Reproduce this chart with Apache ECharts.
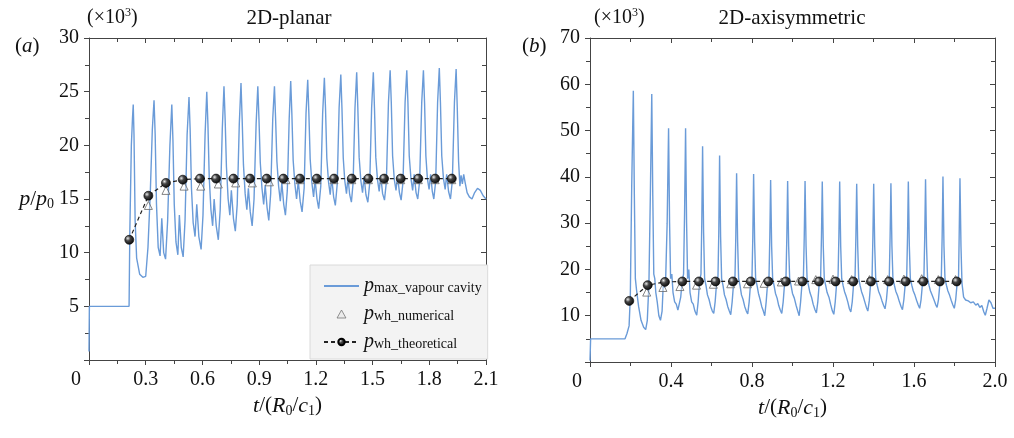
<!DOCTYPE html>
<html>
<head>
<meta charset="utf-8">
<title>p/p0 vapour cavity</title>
<script src="https://cdn.jsdelivr.net/npm/echarts@6/dist/echarts.min.js"></script>
<style>
  html, body { margin: 0; padding: 0; background: #fff; }
  #chart { width: 1014px; height: 438px; }
</style>
</head>
<body>
<div id="chart"></div>
<script>
// (a) 2D-planar : pressure history of the vapour cavity, t/(R0/c1) vs p/p0 (x10^3)
var planarCurve = [
  [0,0.8],[0.002,5],[0.212,5],[0.216,12],[0.224,20],[0.230,22.5],[0.234,23.8],[0.238,21],[0.244,13],[0.252,9.5],[0.268,8.0],[0.285,7.7],[0.300,7.8],[0.312,10.5],[0.324,15.5],[0.335,21.5],[0.344,24.2],
  [0.350,21],[0.357,14.5],[0.366,10.5],[0.376,9.7],[0.385,13.2],[0.395,10.0],[0.405,9.4],[0.416,13],[0.428,20],[0.438,23.8],
  [0.444,20.5],[0.451,14.5],[0.460,11],[0.470,9.8],[0.478,13.5],[0.488,10.5],[0.498,9.6],[0.508,13],[0.519,21],[0.529,24.5],
  [0.535,21.5],[0.542,16],[0.551,12.8],[0.561,11.5],[0.570,14.5],[0.581,11.5],[0.593,10.3],[0.603,13.5],[0.614,21],[0.623,25.0],
  [0.629,22],[0.636,17],[0.645,14],[0.654,12.5],[0.662,15],[0.673,12.5],[0.684,11.2],[0.694,14],[0.705,21.5],[0.714,25.5],
  [0.720,22.5],[0.727,18],[0.736,15],[0.745,13.5],[0.753,15.8],[0.764,13.2],[0.774,12.0],[0.784,14.5],[0.795,22],[0.804,25.8],
  [0.810,22.5],[0.817,18.2],[0.826,15.5],[0.835,14],[0.843,16],[0.853,13.8],[0.863,12.5],[0.873,15],[0.884,22],[0.893,25.5],
  [0.899,22.5],[0.906,18.4],[0.915,16],[0.924,14.5],[0.932,16.3],[0.942,14.2],[0.951,13.0],[0.961,15.5],[0.972,22.5],[0.981,25.5],
  [0.987,22.5],[0.994,18.5],[1.003,16.2],[1.012,14.8],[1.020,16.5],[1.030,14.5],[1.039,13.5],[1.049,15.8],[1.059,22.5],[1.067,26.0],
  [1.073,23],[1.080,18.6],[1.089,16.4],[1.098,15],[1.107,16.7],[1.117,14.8],[1.127,13.8],[1.138,16],[1.148,23],[1.157,26.1],
  [1.163,23],[1.170,18.7],[1.179,16.5],[1.188,15.2],[1.196,16.8],[1.206,15],[1.215,14.1],[1.226,16.2],[1.236,23],[1.245,26.3],
  [1.251,23.5],[1.258,18.8],[1.267,16.6],[1.276,15.4],[1.284,17],[1.294,15.2],[1.303,14.4],[1.313,16.4],[1.323,23.5],[1.332,26.6],
  [1.338,23.5],[1.345,18.8],[1.353,16.7],[1.362,15.5],[1.370,17],[1.379,15.4],[1.388,14.7],[1.397,16.5],[1.407,23.5],[1.416,26.8],
  [1.422,23.5],[1.429,18.9],[1.438,16.7],[1.447,15.6],[1.455,17.1],[1.465,15.4],[1.475,14.7],[1.485,16.5],[1.495,23.5],[1.504,26.8],
  [1.510,23.5],[1.517,18.9],[1.526,16.8],[1.535,15.7],[1.543,17.2],[1.553,15.5],[1.563,14.9],[1.573,16.6],[1.584,24],[1.593,27.0],
  [1.599,24],[1.606,19],[1.615,16.8],[1.624,15.8],[1.632,17.2],[1.642,15.6],[1.651,14.9],[1.661,16.6],[1.672,24],[1.681,27.0],
  [1.687,24],[1.694,19],[1.703,16.9],[1.712,15.8],[1.720,17.3],[1.730,15.6],[1.739,15.0],[1.749,16.7],[1.760,24],[1.769,27.0],
  [1.775,24],[1.782,19],[1.790,16.9],[1.799,15.9],[1.807,17.3],[1.816,15.7],[1.824,15.0],[1.834,16.7],[1.844,24],[1.853,27.2],
  [1.859,24],[1.866,19],[1.875,16.9],[1.884,15.9],[1.892,17.3],[1.902,15.7],[1.912,15.0],[1.922,16.7],[1.933,24],[1.942,27.1],
  [1.948,23.5],[1.955,18.5],[1.962,16.2],[1.968,17.2],[1.975,16.4],[1.982,17.3],[1.990,16.5],[2.000,15.6],[2.012,15.2],[2.026,15.0],[2.040,15.6],[2.055,16.0],[2.070,15.8],[2.085,15.3],[2.100,15.0]
];
var planarNumerical = [
  [0.314,14.4],[0.407,15.8],[0.503,16.2],[0.591,16.2],[0.684,16.4],[0.776,16.5],[0.864,16.5],[0.954,16.6],[1.042,16.8],
  [1.116,16.8],[1.205,16.8],[1.296,16.8],[1.390,16.8],[1.478,16.8],[1.561,16.8],[1.649,16.8],[1.742,16.8],[1.831,16.8],[1.919,16.8]
];
var planarTheoretical = [
  [0.213,11.2],[0.314,15.3],[0.407,16.5],[0.496,16.8],[0.587,16.9],[0.672,16.9],[0.764,16.9],[0.852,16.9],[0.940,16.9],[1.028,16.9],
  [1.116,16.9],[1.205,16.9],[1.296,16.9],[1.390,16.9],[1.478,16.9],[1.561,16.9],[1.649,16.9],[1.742,16.9],[1.831,16.9],[1.919,16.9]
];

// (b) 2D-axisymmetric
var axiCurve = [
  [0,0.3],[0.003,5],[0.173,5],[0.183,6.2],[0.193,7.8],[0.199,14],[0.206,38],[0.214,58.6],[0.219,36],[0.224,18],[0.230,15.5],[0.240,12],[0.252,9],[0.265,7.5],[0.275,7.0],[0.283,9],[0.291,17],[0.298,36],[0.305,57.9],
  [0.310,36],[0.315,19],[0.320,18],[0.325,15],[0.332,13],[0.340,10],[0.348,9.0],[0.356,11],[0.362,17],[0.368,16],[0.374,18.5],[0.381,30],[0.388,50.5],
  [0.393,30],[0.398,18],[0.404,19],[0.410,15],[0.418,13],[0.426,12.5],[0.434,11.2],[0.441,11.0],[0.448,14],[0.455,17.5],[0.462,19],[0.467,32],[0.472,50.5],
  [0.477,30],[0.482,18],[0.488,20],[0.494,15],[0.502,13],[0.510,12.5],[0.518,11],[0.527,10.1],[0.534,13],[0.541,17.5],[0.548,19],[0.552,30],[0.556,46.6],
  [0.561,28],[0.566,18],[0.573,16.5],[0.580,14.5],[0.588,13.5],[0.596,12],[0.604,11],[0.611,10.5],[0.618,13],[0.625,17],[0.632,18.5],[0.636,28],[0.640,44.6],
  [0.645,27],[0.650,18],[0.657,16.5],[0.664,14.5],[0.672,13.5],[0.680,12],[0.688,11],[0.695,10.2],[0.702,13],[0.709,17],[0.716,18.5],[0.720,27],[0.724,40.8],
  [0.729,26],[0.734,18],[0.741,16.5],[0.748,14.5],[0.756,13.5],[0.764,12],[0.772,11],[0.779,10.4],[0.786,13],[0.793,17],[0.800,18.5],[0.804,27],[0.808,40.6],
  [0.813,26],[0.818,18],[0.825,16.5],[0.832,14.8],[0.840,13.5],[0.848,12],[0.856,11],[0.863,10.0],[0.870,13],[0.877,17],[0.884,18.5],[0.888,27],[0.892,39.3],
  [0.897,25],[0.902,18],[0.909,16.5],[0.916,14.8],[0.924,13.8],[0.932,12.2],[0.940,11.2],[0.947,10.5],[0.954,13],[0.961,17],[0.968,18.5],[0.972,27],[0.976,39.1],
  [0.981,25],[0.986,18],[0.993,16.5],[1.000,14.8],[1.009,13.8],[1.018,12.2],[1.026,11],[1.033,10.0],[1.040,13],[1.047,17],[1.054,18.5],[1.058,27],[1.062,39.1],
  [1.067,25],[1.072,18],[1.079,16.5],[1.086,15],[1.094,14],[1.102,12.5],[1.111,11.3],[1.118,10.6],[1.125,13],[1.132,17],[1.139,18.5],[1.143,27],[1.147,39.0],
  [1.152,25],[1.157,18],[1.164,16.5],[1.171,15],[1.180,14],[1.188,12.5],[1.197,11],[1.204,10.3],[1.211,13],[1.218,17],[1.225,18.5],[1.229,27],[1.233,39.0],
  [1.238,25],[1.243,18],[1.250,16.5],[1.257,15.2],[1.265,14.2],[1.273,13],[1.281,11.5],[1.288,10.8],[1.295,13],[1.302,17],[1.309,18.5],[1.313,27],[1.317,38.5],
  [1.322,25],[1.327,18],[1.334,16.5],[1.341,15.2],[1.349,14.2],[1.357,13],[1.365,11.8],[1.372,11.0],[1.379,13.2],[1.386,17],[1.393,18.5],[1.397,27],[1.401,38.5],
  [1.406,25],[1.411,18],[1.418,16.6],[1.425,15.3],[1.434,14.3],[1.442,13.2],[1.450,12.2],[1.457,11.5],[1.464,13.5],[1.471,17],[1.478,18.5],[1.482,27],[1.486,38.6],
  [1.491,25],[1.496,18],[1.503,16.6],[1.510,15.3],[1.519,14.3],[1.528,13],[1.536,12],[1.543,11.3],[1.550,13.5],[1.557,17],[1.564,18.5],[1.568,27],[1.572,39.0],
  [1.577,25],[1.582,18],[1.589,16.6],[1.596,15.4],[1.605,14.4],[1.613,13.3],[1.621,12.3],[1.628,11.6],[1.635,13.5],[1.642,17],[1.649,18.5],[1.653,27],[1.657,39.5],
  [1.662,25],[1.667,18],[1.674,16.6],[1.681,15.4],[1.690,14.4],[1.699,13.4],[1.707,12.4],[1.714,11.8],[1.721,13.5],[1.728,17],[1.735,18.5],[1.739,27],[1.743,40.1],
  [1.748,25],[1.753,18],[1.760,16.6],[1.767,15.4],[1.776,14.4],[1.784,13.3],[1.792,12.3],[1.799,11.6],[1.806,13.5],[1.813,17],[1.820,18.5],[1.823,27],[1.827,39.7],
  [1.832,25],[1.837,17],[1.845,14],[1.855,13.4],[1.868,13.2],[1.880,12.8],[1.893,13],[1.905,12.3],[1.915,12.6],[1.925,11.8],[1.935,12.2],[1.945,10.8],[1.952,10.1],[1.960,11.5],[1.970,13.4],[1.980,12.8],[1.990,11.6],[2.000,11.6]
];
var axiNumerical = [
  [0.280,15.1],[0.360,16.1],[0.444,16.3],[0.526,16.6],[0.609,16.8],[0.695,16.9],[0.778,16.9],[0.860,17.0],[0.945,17.3],[1.030,17.5],
  [1.115,17.8],[1.200,17.9],[1.292,17.8],[1.380,17.8],[1.470,17.8],[1.550,17.9],[1.638,18.0],[1.720,17.8],[1.805,17.8]
];
var axiTheoretical = [
  [0.194,13.2],[0.285,16.6],[0.370,17.3],[0.456,17.4],[0.538,17.4],[0.620,17.4],[0.706,17.4],[0.794,17.4],[0.881,17.4],[0.967,17.4],
  [1.049,17.4],[1.131,17.4],[1.213,17.4],[1.300,17.4],[1.388,17.4],[1.477,17.4],[1.559,17.4],[1.646,17.4],[1.728,17.4],[1.811,17.4]
];

// axis ranges [min, max, interval]
var planarX = [0, 2.1, 0.3];
var planarY = [0, 30, 5];
var axiX = [0, 2.0, 0.4];
var axiY = [0, 70, 10];

var names = ['p_max_vapour cavity', 'p_wh_numerical', 'p_wh_theoretical'];
var legendText = {
  'p_max_vapour cavity': '{i|p}{s|max_vapour cavity}',
  'p_wh_numerical': '{i|p}{s|wh_numerical}',
  'p_wh_theoretical': '{i|p}{s|wh_theoretical}'
};

var serif = 'Liberation Serif';
var axisColor = '#444';
var txt = '#111';
var blue = '#6a9bd8';

var subRich = {
  i: { fontFamily: serif, fontStyle: 'italic', fontSize: 22, lineHeight: 24, color: txt },
  s: { fontFamily: serif, fontSize: 14, lineHeight: 14, verticalAlign: 'bottom', color: txt }
};

function fmtX(v) {
  if (v === 0) return '{z|0}';
  return v.toFixed(1);
}

function xAxes(grid, r) {
  var base = {
    gridIndex: grid, type: 'value', min: r[0], max: r[1], interval: r[2],
    axisLine: { onZero: false, lineStyle: { color: axisColor, width: 1 } },
    axisTick: { length: 5, lineStyle: { color: axisColor } },
    minorTick: { show: true, splitNumber: 2, length: 4, lineStyle: { color: axisColor } },
    splitLine: { show: false },
    minorSplitLine: { show: false }
  };
  var bottom = Object.assign({}, base, {
    position: 'bottom',
    axisLabel: {
      margin: 10, color: txt, fontFamily: serif, fontSize: 20, formatter: fmtX,
      rich: { z: { padding: [0, 26, 0, 0], fontFamily: serif, fontSize: 20, color: txt } }
    },
    name: '{i|t}/({i|R}{s|0}/{i|c}{s|1})',
    nameLocation: 'middle', nameGap: 33,
    nameTextStyle: { fontFamily: serif, fontSize: 21, color: txt, rich: subRich }
  });
  var top = Object.assign({}, base, {
    position: 'top',
    axisTick: { inside: true, length: 5, lineStyle: { color: axisColor } },
    axisLabel: { show: false }
  });
  return [bottom, top];
}

function yAxes(grid, r, name) {
  var base = {
    gridIndex: grid, type: 'value', min: r[0], max: r[1], interval: r[2],
    axisLine: { show: true, onZero: false, lineStyle: { color: axisColor, width: 1 } },
    axisTick: { show: true, length: 5, lineStyle: { color: axisColor } },
    minorTick: { show: true, splitNumber: 2, length: 4, lineStyle: { color: axisColor } },
    splitLine: { show: false },
    minorSplitLine: { show: false }
  };
  var left = Object.assign({}, base, {
    position: 'left',
    axisLabel: { margin: 10, showMinLabel: false, color: txt, fontFamily: serif, fontSize: 20 }
  });
  if (name) {
    left.name = name;
    left.nameLocation = 'middle';
    left.nameRotate = 0;
    left.nameGap = 34;
    left.nameTextStyle = { fontFamily: serif, fontSize: 21, color: txt, rich: subRich };
  }
  var right = Object.assign({}, base, {
    position: 'right',
    axisTick: { show: true, inside: true, length: 5, lineStyle: { color: axisColor } },
    axisLabel: { show: false }
  });
  return [left, right];
}

var sphere = {
  type: 'radial', x: 0.35, y: 0.35, r: 0.75,
  colorStops: [{ offset: 0, color: '#e8e8e8' }, { offset: 0.35, color: '#444' }, { offset: 1, color: '#000' }]
};

function seriesFor(xi, yi, curve, numerical, theoretical) {
  return [
    {
      name: names[0], type: 'line', xAxisIndex: xi, yAxisIndex: yi, data: curve,
      symbol: 'none', smooth: false, z: 2,
      lineStyle: { color: blue, width: 1.4 }, itemStyle: { color: blue }
    },
    {
      name: names[1], type: 'scatter', xAxisIndex: xi, yAxisIndex: yi, data: numerical,
      symbol: 'triangle', symbolSize: 8, z: 3,
      itemStyle: { color: 'rgba(255,255,255,0.5)', borderColor: '#666', borderWidth: 1 }
    },
    {
      name: names[2], type: 'line', xAxisIndex: xi, yAxisIndex: yi, data: theoretical,
      symbol: 'circle', symbolSize: 9, showSymbol: true, z: 4,
      lineStyle: { color: '#222', width: 1.2, type: [4, 3] },
      itemStyle: { color: sphere, borderColor: '#000', borderWidth: 0.6 }
    }
  ];
}

var titleStyle = { fontFamily: serif, fontSize: 21, fontWeight: 'normal', color: txt };
var supStyle = {
  fontFamily: serif, fontSize: 20, fontWeight: 'normal', color: txt, lineHeight: 22,
  rich: { sup: { fontFamily: serif, fontSize: 12, lineHeight: 12, verticalAlign: 'top', color: txt } }
};
var tagStyle = {
  fontFamily: serif, fontSize: 21, fontWeight: 'normal', color: txt,
  rich: { i: { fontFamily: serif, fontStyle: 'italic', fontSize: 21, color: txt } }
};

var chart = echarts.init(document.getElementById('chart'), null, { renderer: 'canvas' });
chart.setOption({
  animation: false,
  backgroundColor: '#fff',
  title: [
    { text: '2D-planar', left: 284, top: 3, textAlign: 'center', textStyle: titleStyle },
    { text: '2D-axisymmetric', left: 787, top: 3, textAlign: 'center', textStyle: titleStyle },
    { text: '(×10{sup|3})', left: 82, top: 2, textStyle: supStyle },
    { text: '(×10{sup|3})', left: 589, top: 2, textStyle: supStyle },
    { text: '({i|a})', left: 10, top: 31, textStyle: tagStyle },
    { text: '({i|b})', left: 517, top: 31, textStyle: tagStyle }
  ],
  grid: [
    { left: 89, right: 528, top: 38, bottom: 78 },
    { left: 590, right: 19, top: 38, bottom: 76 }
  ],
  xAxis: xAxes(0, planarX).concat(xAxes(1, axiX)),
  yAxis: yAxes(0, planarY, '{i|p}/{i|p}{s|0}').concat(yAxes(1, axiY, null)),
  legend: {
    data: [
      { name: names[0], itemStyle: { opacity: 0 } },
      { name: names[1], icon: 'path://M5,0 L10,9 L0,9 Z', itemStyle: { color: '#e8e8e8', borderColor: '#777', borderWidth: 1 } },
      { name: names[2] }
    ],
    orient: 'vertical', left: 310, top: 265,
    padding: [11, 6, 7, 13], itemGap: 8,
    itemWidth: 35, itemHeight: 8,
    symbolKeepAspect: true,
    backgroundColor: '#f3f3f3', borderColor: '#dadada', borderWidth: 1,
    selectedMode: false,
    formatter: function (n) { return legendText[n]; },
    textStyle: {
      fontFamily: serif, color: txt,
      rich: {
        i: { fontFamily: serif, fontStyle: 'italic', fontSize: 20, lineHeight: 18, color: txt },
        s: { fontFamily: serif, fontSize: 14, lineHeight: 12, verticalAlign: 'bottom', color: txt }
      }
    }
  },
  series: seriesFor(0, 0, planarCurve, planarNumerical, planarTheoretical)
    .concat(seriesFor(2, 2, axiCurve, axiNumerical, axiTheoretical))
});
</script>
</body>
</html>
